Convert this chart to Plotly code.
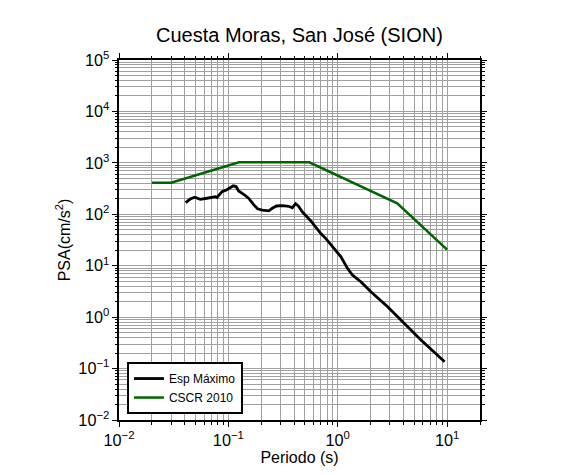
import plotly.graph_objects as go

# Esp Máximo (black) - period (s), PSA (cm/s^2)
esp_period = [0.0407, 0.0448, 0.0493, 0.0553, 0.0638, 0.0708, 0.0760, 0.0787, 0.0875, 0.0960,
              0.104, 0.111, 0.118, 0.124, 0.138, 0.153, 0.171, 0.185, 0.204, 0.234,
              0.252, 0.275, 0.313, 0.357, 0.384, 0.412, 0.436, 0.474, 0.565, 0.698,
              0.776, 0.925, 1.066, 1.227, 1.364, 1.626, 2.01, 2.86, 4.06, 5.77, 9.5]
esp_psa = [169, 198, 214, 196, 205, 214, 220, 212, 275, 297,
           329, 358, 343, 284, 245, 205, 152, 128, 121, 117,
           131, 145, 147, 143, 134, 160, 145, 112, 75, 42.7,
           34.1, 21.8, 15.0, 8.91, 6.60, 4.89, 3.12, 1.60, 0.759, 0.360, 0.136]

# CSCR 2010 (green)
cscr_period = [0.02, 0.03, 0.125, 0.55, 3.5, 10]
cscr_psa = [410, 410, 1025, 1025, 163, 20.5]

title_text = "Cuesta Moras, San José (SION)"
x_title = "Periodo (s)"
y_title = "PSA(cm/s<sup>2</sup>)"
legend_names = ["Esp Máximo", "CSCR 2010"]

FONT = "Liberation Sans, Arial, Helvetica, sans-serif"
GRID = "#a0a0a0"

fig = go.Figure()
fig.add_trace(go.Scatter(x=esp_period, y=esp_psa, mode="lines", name=legend_names[0],
                         line=dict(color="black", width=2.8)))
fig.add_trace(go.Scatter(x=cscr_period, y=cscr_psa, mode="lines", name=legend_names[1],
                         line=dict(color="#006400", width=2.5)))

axis_common = dict(
    type="log", dtick=1, exponentformat="power", automargin=False,
    showline=True, linewidth=2, linecolor="black", mirror="allticks",
    ticks="outside", ticklen=5, tickwidth=1, tickcolor="black",
    showgrid=True, gridcolor=GRID, gridwidth=0.8,
    zeroline=False,
    tickfont=dict(size=13, color="black", family=FONT),
    labelalias={"1": "10<sup>0</sup>", "10": "10<sup>1</sup>"},
    minor=dict(dtick="D1", ticks="outside", ticklen=2.5, tickcolor="black",
               showgrid=True, gridcolor=GRID, gridwidth=0.8),
)

fig.update_layout(
    width=586, height=475,
    margin=dict(l=119, r=106, t=60, b=55, autoexpand=False),
    paper_bgcolor="white", plot_bgcolor="white",
    font=dict(family=FONT, color="black"),
    title=dict(text=title_text, x=0.511, xanchor="center", yref="container",
               y=1 - 35 / 475, yanchor="middle", font=dict(size=20, color="black"),
               automargin=False),
    xaxis=dict(axis_common, range=[-2, 1.30103],
               title=dict(text=x_title, font=dict(size=16), standoff=4)),
    yaxis=dict(axis_common, range=[-2, 5],
               title=dict(text=y_title, font=dict(size=16), standoff=4)),
    legend=dict(x=0.022, y=0.161, xanchor="left", yanchor="top",
                bgcolor="white", bordercolor="black", borderwidth=2,
                font=dict(size=12, color="black"), tracegroupgap=0),
    showlegend=True,
)

fig.write_html("out.html", config={"displayModeBar": False},
               post_script="document.body.style.margin='0';document.body.style.overflow='hidden';")
